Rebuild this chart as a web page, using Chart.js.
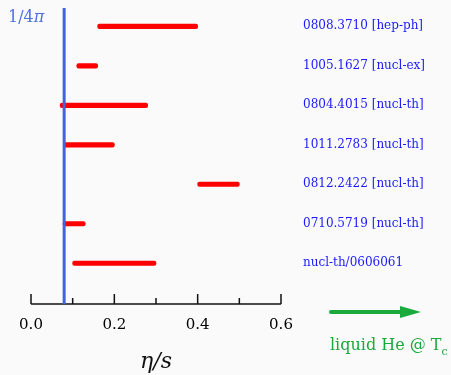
<!DOCTYPE html>
<html>
<head>
<meta charset="utf-8">
<script src="https://cdn.jsdelivr.net/npm/chart.js@4.4.1/dist/chart.umd.min.js"></script>
<style>
  html, body { margin: 0; padding: 0; background: #fafafa; }
  #wrap { width: 451px; height: 375px; }
</style>
</head>
<body>
<div id="wrap"><canvas id="etas"></canvas></div>
<script>
// eta/s ranges quoted in each paper
var papers = [
  "0808.3710 [hep-ph]",
  "1005.1627 [nucl-ex]",
  "0804.4015 [nucl-th]",
  "1011.2783 [nucl-th]",
  "0812.2422 [nucl-th]",
  "0710.5719 [nucl-th]",
  "nucl-th/0606061"
];
var lowVals  = [0.16, 0.11, 0.07, 0.08, 0.40, 0.077, 0.10];
var highVals = [0.40, 0.16, 0.28, 0.20, 0.50, 0.13, 0.30];
var kssBound = 1 / (4 * Math.PI);

var serif = "'DejaVu Serif', 'Liberation Serif', serif";

var ranges = [];
for (var i in papers) {
  ranges.push([lowVals[i], highVals[i]]);
}

// axis line with ticks pointing up, the 1/4pi line and the helium arrow
var extras = {
  id: 'extras',
  afterDraw: function (chart) {
    var ctx = chart.ctx;
    var x = chart.scales.x;
    var area = chart.chartArea;
    var axisY = area.bottom + 21;

    ctx.save();
    ctx.strokeStyle = '#111';
    ctx.lineWidth = 1.5;
    ctx.beginPath();
    ctx.moveTo(x.getPixelForValue(0), axisY);
    ctx.lineTo(x.getPixelForValue(0.6), axisY);
    for (var k = 0; k <= 6; k++) {
      var px = x.getPixelForValue(k / 10);
      ctx.moveTo(px, axisY);
      ctx.lineTo(px, axisY - (k % 2 === 0 ? 10 : 6));
    }
    ctx.stroke();

    var bx = x.getPixelForValue(kssBound);
    ctx.strokeStyle = '#4462dc';
    ctx.lineWidth = 3;
    ctx.beginPath();
    ctx.moveTo(bx, 8);
    ctx.lineTo(bx, axisY);
    ctx.stroke();

    ctx.fillStyle = '#5070e0';
    ctx.textBaseline = 'alphabetic';
    ctx.font = "16px " + serif;
    ctx.fillText('1/4', 8, 22);
    var w0 = ctx.measureText('1/4').width;
    ctx.font = "italic 16px " + serif;
    ctx.fillText('\u03c0', 8 + w0, 22);

    ctx.strokeStyle = '#1aaa3c';
    ctx.fillStyle = '#1aaa3c';
    ctx.lineWidth = 4;
    ctx.lineCap = 'round';
    ctx.beginPath();
    ctx.moveTo(331, 312);
    ctx.lineTo(404, 312);
    ctx.stroke();
    ctx.beginPath();
    ctx.moveTo(400, 306);
    ctx.lineTo(421, 312);
    ctx.lineTo(400, 318);
    ctx.closePath();
    ctx.fill();

    ctx.font = "16px " + serif;
    ctx.fillText('liquid He @ T', 330, 350);
    var w = ctx.measureText('liquid He @ T').width;
    ctx.font = "11px " + serif;
    ctx.fillText('c', 330 + w, 355);
    ctx.restore();
  }
};

new Chart(document.getElementById('etas'), {
  type: 'bar',
  data: {
    labels: papers,
    datasets: [{
      data: ranges,
      backgroundColor: '#ff0000',
      borderSkipped: false,
      borderRadius: 2,
      barThickness: 4.5
    }]
  },
  options: {
    indexAxis: 'y',
    responsive: true,
    maintainAspectRatio: false,
    animation: false,
    layout: { padding: { left: 31, top: 0, right: 0, bottom: 0 } },
    plugins: {
      legend: { display: false },
      tooltip: { enabled: false }
    },
    scales: {
      x: {
        type: 'linear',
        min: 0,
        max: 0.6,
        // ticks themselves are drawn by the plugin; tickLength only spaces the labels
        grid: { display: false, drawTicks: true, tickLength: 33 },
        border: { display: false },
        ticks: {
          stepSize: 0.2,
          padding: 0,
          color: '#000',
          font: { family: serif, size: 15 },
          callback: function (v) { return v.toFixed(1); }
        },
        title: {
          display: true,
          text: '\u03b7/s',
          color: '#111',
          font: { family: serif, size: 22, style: 'italic' },
          padding: { top: 10, bottom: 0 }
        },
        afterFit: function (s) { s.height = 92; }
      },
      y: {
        position: 'right',
        grid: { display: false, drawTicks: true, tickLength: 22 },
        border: { display: false },
        ticks: {
          padding: 0,
          color: '#1a1aff',
          font: { family: serif, size: 12, lineHeight: 1.1 }
        },
        afterFit: function (s) { s.width = 170; }
      }
    }
  },
  plugins: [extras]
});
</script>
</body>
</html>
